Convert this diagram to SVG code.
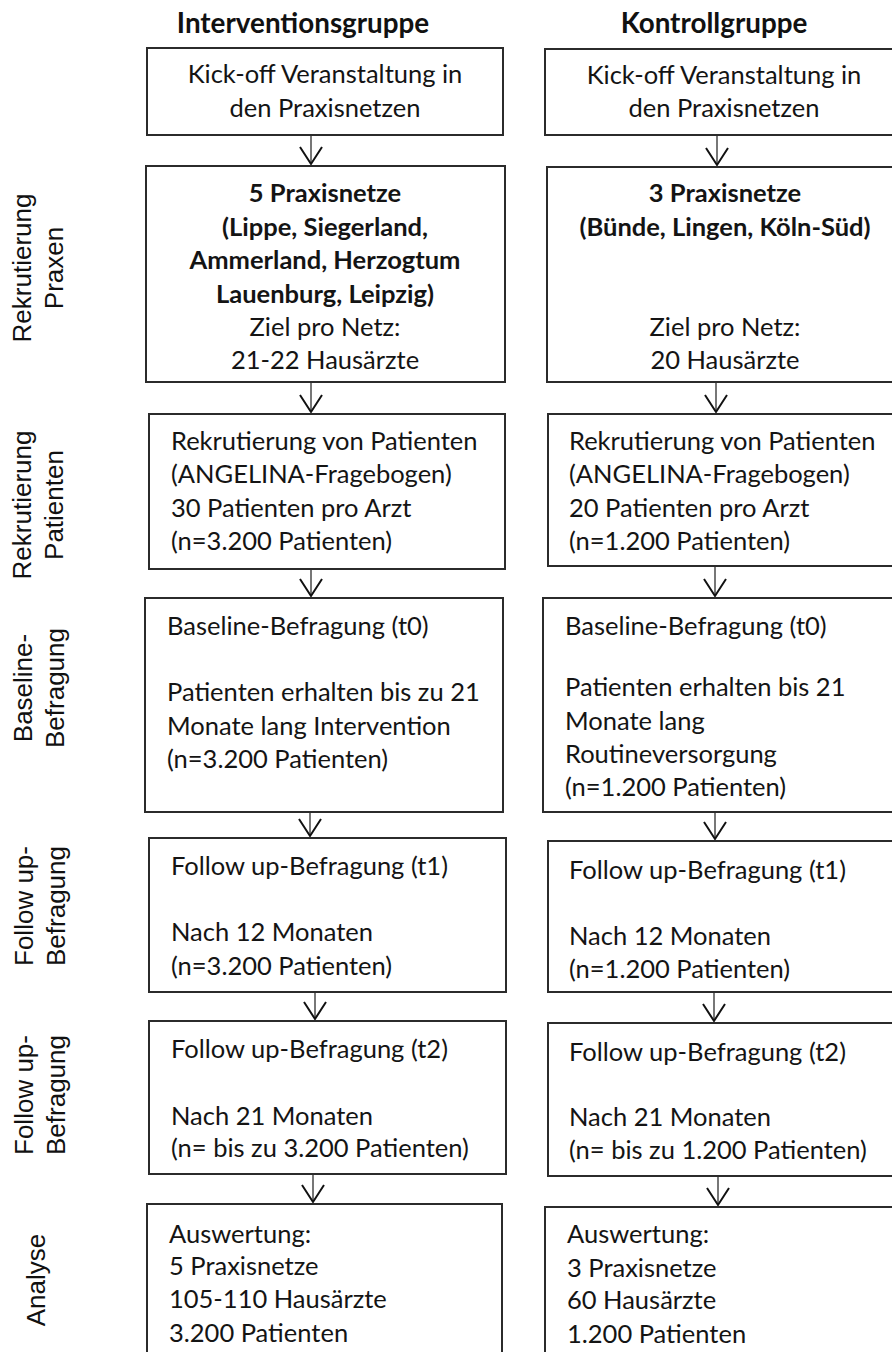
<svg xmlns="http://www.w3.org/2000/svg" width="892" height="1352" viewBox="0 0 892 1352">
<defs>
<style>
.bg{fill:#ffffff}
.box{fill:#ffffff;stroke:#2b2b2b;stroke-width:2}
.t{font-family:Lato,"Open Sans","Liberation Sans",sans-serif;font-size:25.5px;fill:#141414}
.b{font-weight:bold}
.c{text-anchor:middle}
.h{font-family:Lato,"Open Sans","Liberation Sans",sans-serif;font-size:27.8px;font-weight:bold;fill:#111;text-anchor:middle}
.lab{font-family:"Liberation Sans",Arial,sans-serif;font-size:26px;fill:#111;text-anchor:middle}
.shaft{stroke:#555;stroke-width:1.6;fill:none}
.head{stroke:#111;stroke-width:2;fill:none;stroke-linejoin:miter}
</style>
</defs>
<rect class="bg" x="0" y="0" width="892" height="1352"/>

<g id="titles">
<text class="h" x="303" y="33">Interventionsgruppe</text>
<text class="h" x="714" y="33">Kontrollgruppe</text>
</g>

<g id="labels">
<text class="lab" transform="translate(31,268) rotate(-90)"><tspan x="0" y="0">Rekrutierung</tspan><tspan x="0" dy="32">Praxen</tspan></text>
<text class="lab" transform="translate(31,505) rotate(-90)"><tspan x="0" y="0">Rekrutierung</tspan><tspan x="0" dy="32">Patienten</tspan></text>
<text class="lab" transform="translate(32,688) rotate(-90)"><tspan x="0" y="0">Baseline-</tspan><tspan x="0" dy="32">Befragung</tspan></text>
<text class="lab" transform="translate(33,906) rotate(-90)"><tspan x="0" y="0">Follow up-</tspan><tspan x="0" dy="32">Befragung</tspan></text>
<text class="lab" transform="translate(33,1095) rotate(-90)"><tspan x="0" y="0">Follow up-</tspan><tspan x="0" dy="32">Befragung</tspan></text>
<text class="lab" transform="translate(45,1280) rotate(-90)"><tspan x="0" y="0">Analyse</tspan></text>
</g>

<g id="connectors">
<line class="shaft" x1="311" y1="136" x2="311" y2="164"/><polyline class="head" points="300,147 311,164 322,147"/>
<line class="shaft" x1="311" y1="383" x2="311" y2="412"/><polyline class="head" points="300,395 311,412 322,395"/>
<line class="shaft" x1="311" y1="570" x2="311" y2="596"/><polyline class="head" points="300,579 311,596 322,579"/>
<line class="shaft" x1="310" y1="813" x2="310" y2="836"/><polyline class="head" points="299,819 310,836 321,819"/>
<line class="shaft" x1="315" y1="993" x2="315" y2="1019"/><polyline class="head" points="304,1002 315,1019 326,1002"/>
<line class="shaft" x1="313" y1="1175" x2="313" y2="1202"/><polyline class="head" points="302,1185 313,1202 324,1185"/>
<line class="shaft" x1="717" y1="136" x2="717" y2="165"/><polyline class="head" points="706,148 717,165 728,148"/>
<line class="shaft" x1="716" y1="383" x2="716" y2="412"/><polyline class="head" points="705,395 716,412 727,395"/>
<line class="shaft" x1="715" y1="567" x2="715" y2="596"/><polyline class="head" points="704,579 715,596 726,579"/>
<line class="shaft" x1="715" y1="813" x2="715" y2="839"/><polyline class="head" points="704,822 715,839 726,822"/>
<line class="shaft" x1="714" y1="993" x2="714" y2="1021"/><polyline class="head" points="703,1004 714,1021 725,1004"/>
<line class="shaft" x1="718" y1="1177" x2="718" y2="1205"/><polyline class="head" points="707,1188 718,1205 729,1188"/>
</g>

<g id="L1"><rect class="box" x="147" y="48" width="356" height="87"/>
<text class="t c" x="325" y="83">Kick-off Veranstaltung in</text>
<text class="t c" x="325" y="117">den Praxisnetzen</text></g>

<g id="R1"><rect class="box" x="545" y="49" width="360" height="86"/>
<text class="t c" x="724" y="84">Kick-off Veranstaltung in</text>
<text class="t c" x="724" y="117">den Praxisnetzen</text></g>

<g id="L2"><rect class="box" x="146" y="166" width="359" height="216"/>
<text class="t b c" x="325" y="202">5 Praxisnetze</text>
<text class="t b c" x="325" y="236">(Lippe, Siegerland,</text>
<text class="t b c" x="325" y="269">Ammerland, Herzogtum</text>
<text class="t b c" x="325" y="303">Lauenburg, Leipzig)</text>
<text class="t c" x="325" y="336">Ziel pro Netz:</text>
<text class="t c" x="325" y="369">21-22 Hausärzte</text></g>

<g id="R2"><rect class="box" x="547" y="167" width="360" height="215"/>
<text class="t b c" x="725" y="202">3 Praxisnetze</text>
<text class="t b c" x="725" y="236">(Bünde, Lingen, Köln-Süd)</text>
<text class="t c" x="725" y="336">Ziel pro Netz:</text>
<text class="t c" x="725" y="369">20 Hausärzte</text></g>

<g id="L3"><rect class="box" x="149" y="414" width="356" height="155"/>
<text class="t" x="171" y="450">Rekrutierung von Patienten</text>
<text class="t" x="171" y="483">(ANGELINA-Fragebogen)</text>
<text class="t" x="171" y="517">30 Patienten pro Arzt</text>
<text class="t" x="171" y="550">(n=3.200 Patienten)</text></g>

<g id="R3"><rect class="box" x="548" y="414" width="360" height="152"/>
<text class="t" x="569" y="450">Rekrutierung von Patienten</text>
<text class="t" x="569" y="483">(ANGELINA-Fragebogen)</text>
<text class="t" x="569" y="517">20 Patienten pro Arzt</text>
<text class="t" x="569" y="550">(n=1.200 Patienten)</text></g>

<g id="L4"><rect class="box" x="145" y="598" width="358" height="214"/>
<text class="t" x="167" y="635">Baseline-Befragung (t0)</text>
<text class="t" x="167" y="701">Patienten erhalten bis zu 21</text>
<text class="t" x="167" y="735">Monate lang Intervention</text>
<text class="t" x="167" y="768">(n=3.200 Patienten)</text></g>

<g id="R4"><rect class="box" x="543" y="598" width="365" height="214"/>
<text class="t" x="565" y="635">Baseline-Befragung (t0)</text>
<text class="t" x="565" y="696">Patienten erhalten bis 21</text>
<text class="t" x="565" y="730">Monate lang</text>
<text class="t" x="565" y="763">Routineversorgung</text>
<text class="t" x="565" y="796">(n=1.200 Patienten)</text></g>

<g id="L5"><rect class="box" x="149" y="838" width="357" height="154"/>
<text class="t" x="171" y="875">Follow up-Befragung (t1)</text>
<text class="t" x="171" y="941">Nach 12 Monaten</text>
<text class="t" x="171" y="975">(n=3.200 Patienten)</text></g>

<g id="R5"><rect class="box" x="548" y="841" width="360" height="151"/>
<text class="t" x="569" y="879">Follow up-Befragung (t1)</text>
<text class="t" x="569" y="945">Nach 12 Monaten</text>
<text class="t" x="569" y="978">(n=1.200 Patienten)</text></g>

<g id="L6"><rect class="box" x="149" y="1021" width="357" height="153"/>
<text class="t" x="171" y="1058">Follow up-Befragung (t2)</text>
<text class="t" x="171" y="1125">Nach 21 Monaten</text>
<text class="t" x="171" y="1157">(n= bis zu 3.200 Patienten)</text></g>

<g id="R6"><rect class="box" x="548" y="1023" width="360" height="153"/>
<text class="t" x="569" y="1061">Follow up-Befragung (t2)</text>
<text class="t" x="569" y="1126">Nach 21 Monaten</text>
<text class="t" x="569" y="1159">(n= bis zu 1.200 Patienten)</text></g>

<g id="L7"><rect class="box" x="147" y="1204" width="355" height="170"/>
<text class="t" x="169" y="1243">Auswertung:</text>
<text class="t" x="169" y="1275">5 Praxisnetze</text>
<text class="t" x="169" y="1308">105-110 Hausärzte</text>
<text class="t" x="169" y="1342">3.200 Patienten</text></g>

<g id="R7"><rect class="box" x="545" y="1207" width="363" height="170"/>
<text class="t" x="567" y="1243">Auswertung:</text>
<text class="t" x="567" y="1277">3 Praxisnetze</text>
<text class="t" x="567" y="1309">60 Hausärzte</text>
<text class="t" x="567" y="1343">1.200 Patienten</text></g>
</svg>
